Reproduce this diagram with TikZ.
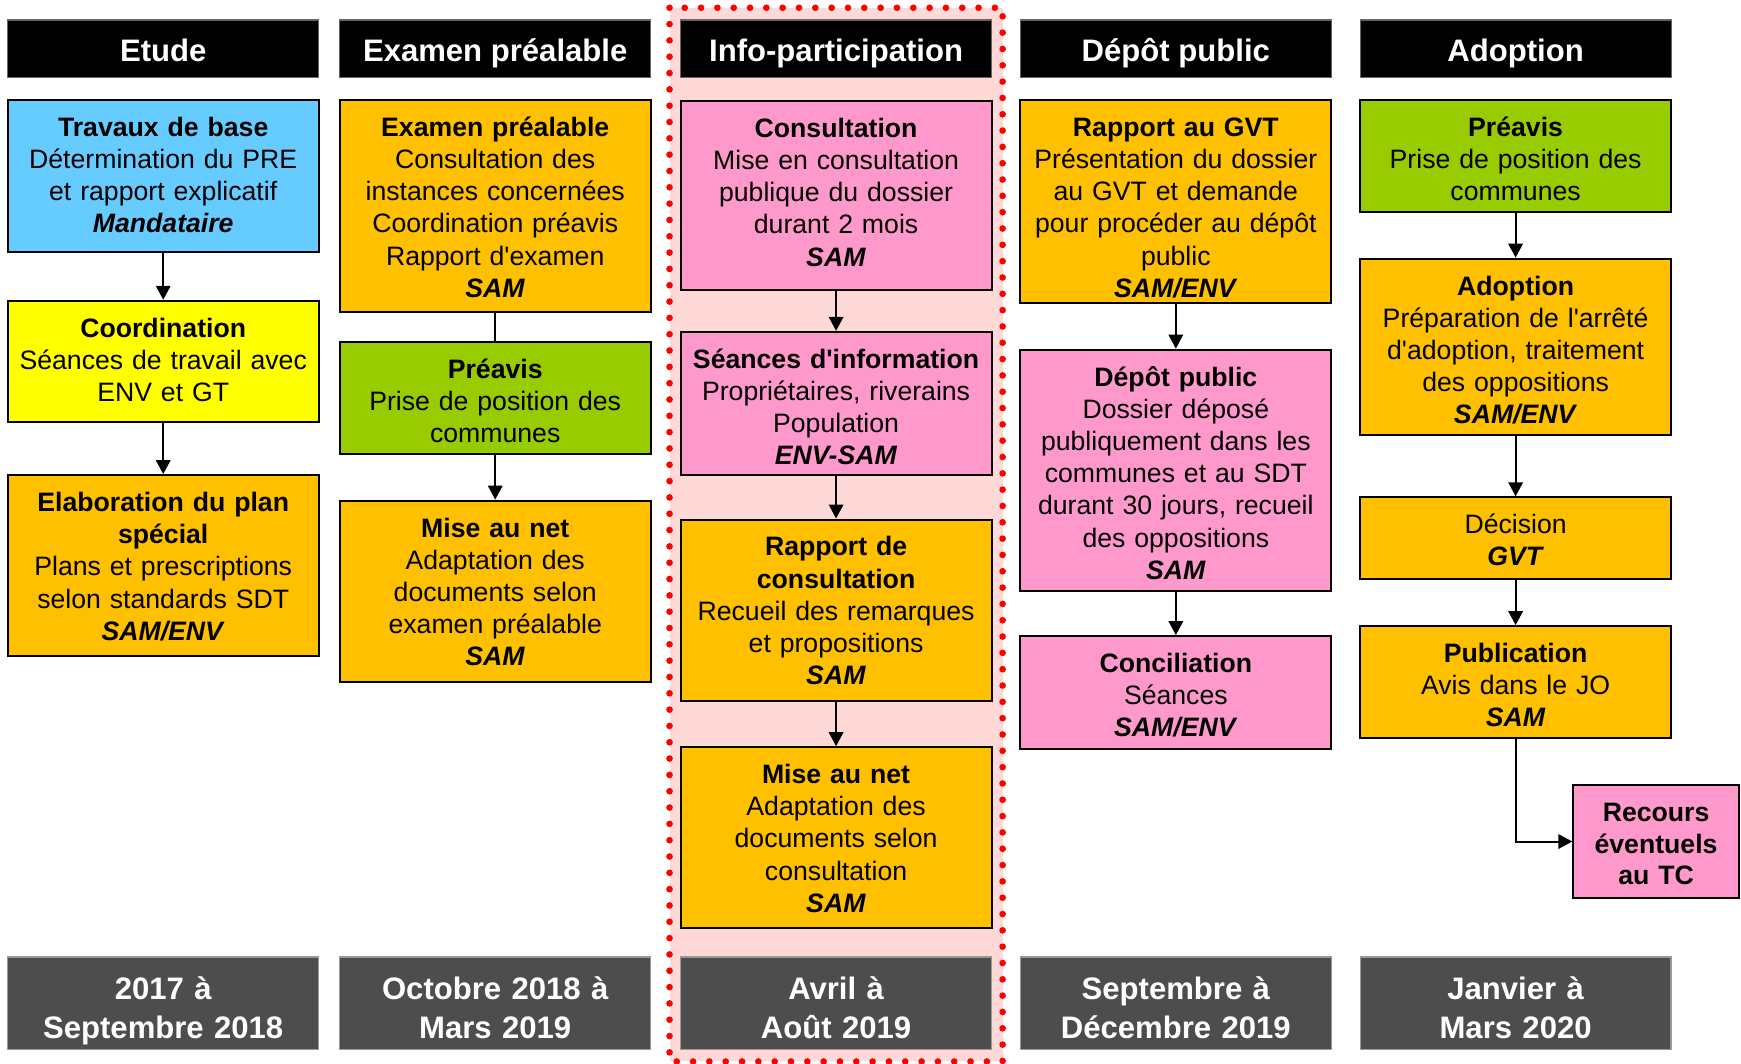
\documentclass[tikz,border=0pt]{standalone}
\usepackage{fontspec}
\setmainfont{Liberation Sans}[Ligatures=TeXOff]
\usetikzlibrary{arrows.meta}
\definecolor{cblue}{HTML}{66CCFF}
\definecolor{cyellow}{HTML}{FFFF00}
\definecolor{corange}{HTML}{FFC000}
\definecolor{cgreen}{HTML}{99CC00}
\definecolor{cpink}{HTML}{FF99CC}
\definecolor{pinkbg}{HTML}{FFD8D8}
\definecolor{dgray}{HTML}{4D4D4D}
\definecolor{dotred}{HTML}{FF0000}
\begin{document}
\begin{tikzpicture}[x=0.5pt,y=-0.5pt,
  box/.style={draw=black, line width=0.9pt, inner xsep=1pt, inner ysep=0pt,
    text width=138pt, minimum width=140pt, align=center, anchor=north,
    text height=16.4pt,
    font=\fontsize{12}{14.5}\selectfont},
  hdr/.style={fill=black, draw=black!60, line width=0.5pt, text=white,
    minimum width=140pt, minimum height=26pt, inner sep=0pt,
    text height=13pt, text depth=1.5pt,
    font=\fontsize{14}{17}\selectfont\bfseries},
  datebox/.style={fill=dgray, draw=black!40, line width=0.6pt, text=white,
    text width=140pt, minimum width=140pt, minimum height=41.5pt, align=center, inner sep=0pt,
    text height=15pt, text depth=18.5pt,
    font=\fontsize{14}{17.5}\selectfont\bfseries},
  arr/.style={-{Triangle[length=6.3pt,width=6.5pt]}, line width=0.9pt},
  ln/.style={line width=0.9pt}]
\useasboundingbox (0,0) rectangle (1568,958);

% highlighted column
\fill[pinkbg] (603,7) rectangle (903,956);
\draw[dotred, line width=3pt, dash pattern=on 0pt off 7.35pt, line cap=round]
  (603,7) rectangle (903,956);

% headers
\node[hdr] (h1) at (147,44) {Etude};
\node[hdr] (h2) at (446,44) {Examen préalable};
\node[hdr] (h3) at (753,44) {Info-participation};
\node[hdr] (h4) at (1059,44) {Dépôt public};
\node[hdr] (h5) at (1365,44) {Adoption};

% dates
\node[datebox] (d1) at (147,903.5) {2017 à\\Septembre 2018};
\node[datebox] (d2) at (446,903.5) {Octobre 2018 à\\Mars 2019};
\node[datebox] (d3) at (753,903.5) {Avril à\\Août 2019};
\node[datebox] (d4) at (1059,903.5) {Septembre à\\Décembre 2019};
\node[datebox] (d5) at (1365,903.5) {Janvier à\\Mars 2020};

% column 1
\node[box, fill=cblue, text depth=52.1pt] (trav) at (147,89)
  {\textbf{Travaux de base}\\Détermination du PRE\\et rapport explicatif\\\textbf{\textit{Mandataire}}};
\node[box, fill=cyellow, text depth=38.1pt] (coord) at (147,270)
  {\textbf{Coordination}\\Séances de travail avec\\ENV et GT};
\node[box, fill=corange, text depth=65.1pt] (elab) at (147,427)
  {\textbf{Elaboration du plan}\\\textbf{spécial}\\Plans et prescriptions\\selon standards SDT\\\textbf{\textit{SAM/ENV}}};

% column 2
\node[box, fill=corange, text depth=79.1pt] (exam) at (446,89)
  {\textbf{Examen préalable}\\Consultation des\\instances concernées\\Coordination préavis\\Rapport d'examen\\\textbf{\textit{SAM}}};
\node[box, fill=cgreen, text depth=34.1pt] (preav2) at (446,307)
  {\textbf{Préavis}\\Prise de position des\\communes};
\node[box, fill=corange, text depth=65.1pt] (net2) at (446,450)
  {\textbf{Mise au net}\\Adaptation des\\documents selon\\examen préalable\\\textbf{\textit{SAM}}};

% column 3
\node[box, fill=cpink, text depth=68.6pt] (cons) at (753,90)
  {\textbf{Consultation}\\Mise en consultation\\publique du dossier\\durant 2 mois\\\textbf{\textit{SAM}}};
\node[box, fill=cpink, text depth=48.1pt] (seance) at (753,298)
  {\textbf{Séances d'information}\\Propriétaires, riverains\\Population\\\textbf{\textit{ENV-SAM}}};
\node[box, fill=corange, text depth=65.1pt] (rapcons) at (753,467)
  {\textbf{Rapport de}\\\textbf{consultation}\\Recueil des remarques\\et propositions\\\textbf{\textit{SAM}}};
\node[box, fill=corange, text depth=65.1pt] (net3) at (753,672)
  {\textbf{Mise au net}\\Adaptation des\\documents selon\\consultation\\\textbf{\textit{SAM}}};

% column 4
\node[box, fill=corange, text depth=75.1pt] (gvt) at (1059,89)
  {\textbf{Rapport au GVT}\\Présentation du dossier\\au GVT et demande\\pour procéder au dépôt\\public\\\textbf{\textit{SAM/ENV}}};
\node[box, fill=cpink, text depth=92.1pt] (depot) at (1059,314)
  {\textbf{Dépôt public}\\Dossier déposé\\publiquement dans les\\communes et au SDT\\durant 30 jours, recueil\\des oppositions\\\textbf{\textit{SAM}}};
\node[box, fill=cpink, text depth=34.6pt] (concil) at (1059,572)
  {\textbf{Conciliation}\\Séances\\\textbf{\textit{SAM/ENV}}};

% column 5
\node[box, fill=cgreen, text depth=34.1pt] (preav5) at (1365,89)
  {\textbf{Préavis}\\Prise de position des\\communes};
\node[box, fill=corange, text depth=63.1pt] (adop) at (1365,232)
  {\textbf{Adoption}\\Préparation de l'arrêté\\d'adoption, traitement\\des oppositions\\\textbf{\textit{SAM/ENV}}};
\node[box, fill=corange, text depth=20.6pt] (decis) at (1365,447)
  {Décision\\\textbf{\textit{GVT}}};
\node[box, fill=corange, text depth=34.1pt] (publ) at (1365,563)
  {\textbf{Publication}\\Avis dans le JO\\\textbf{\textit{SAM}}};
\node[box, fill=cpink, text depth=34.6pt, text width=72.5pt, minimum width=74.5pt,
  font=\fontsize{12}{14.3}\selectfont\bfseries] (recours) at (1491.5,706)
  {Recours\\éventuels\\au TC};

% connectors
\draw[arr] (trav) -- (coord);
\draw[arr] (coord) -- (elab);
\draw[ln] (exam) -- (preav2);
\draw[arr] (preav2) -- (net2);
\draw[arr] (cons) -- (seance);
\draw[arr] (seance) -- (rapcons);
\draw[arr] (rapcons) -- (net3);
\draw[arr] (gvt) -- (depot);
\draw[arr] (depot) -- (concil);
\draw[arr] (preav5) -- (adop);
\draw[arr] (adop) -- (decis);
\draw[arr] (decis) -- (publ);
\draw[arr] (publ.south) |- (recours.west);
\end{tikzpicture}
\end{document}
